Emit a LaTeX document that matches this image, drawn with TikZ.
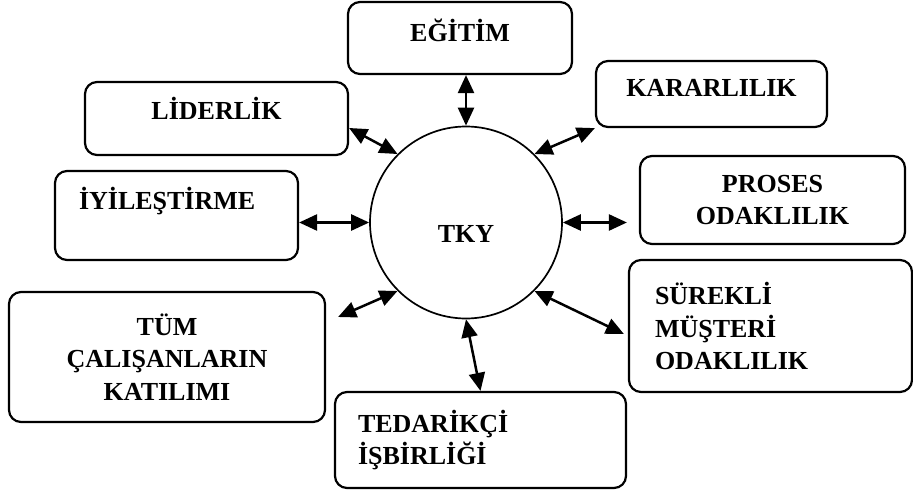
\documentclass[tikz,border=0pt]{standalone}
\usepackage{fontspec}
\setmainfont{Liberation Serif}
\usepackage{tikz}
\usetikzlibrary{positioning,arrows.meta}

\begin{document}
\begin{tikzpicture}[x=1pt, y=-1pt,
  every node/.style={font=\fontsize{26}{32.5}\selectfont\bfseries},
  item/.style={draw, rectangle, rounded corners=12pt, line width=2.2pt, inner sep=0pt},
  dbl/.style={{Triangle[length=18pt,width=16pt]}-{Triangle[length=18pt,width=16pt]}, line width=2.5pt}]

\useasboundingbox (0,0) rectangle (913,492);

% Centre
\node (tky) [draw, circle, line width=1.7pt, minimum size=192pt, text height=40pt, text depth=0pt] at (466,222.5) {TKY};

% Boxes round the centre
\node (egitim) [item, minimum width=224pt, minimum height=72pt, text height=18pt, text depth=10pt] at (460,38) {EĞİTİM};
\node (liderlik) [item, minimum width=263pt, minimum height=73pt, text height=18pt, text depth=15pt] at (216.5,118.5) {LİDERLİK};
\node (kararlilik) [item, minimum width=231pt, minimum height=66pt, text height=18pt, text depth=13pt] at (711.5,94) {KARARLILIK};
\node (iyilestirme) [item, minimum width=243pt, minimum height=89pt, text width=195pt, align=left, text height=18pt, text depth=31pt] at (176.5,215.5) {İYİLEŞTİRME};
\node (proses) [item, minimum width=265pt, minimum height=88pt, align=center] at (772.5,200) {PROSES\\ODAKLILIK};
\node (tum) [item, minimum width=316pt, minimum height=130pt, align=center] at (167,357) {TÜM\\ÇALIŞANLARIN\\KATILIMI};
\node (tedarikci) [item, minimum width=291pt, minimum height=96pt, text width=245pt, align=left] at (480.5,440) {TEDARİKÇİ\\İŞBİRLİĞİ};
\node (surekli) [item, minimum width=283pt, minimum height=132pt, text width=231pt, align=left] at (770.5,326) {SÜREKLİ\\MÜŞTERİ\\ODAKLILIK};

% Arrows
\draw[dbl] (tky.north) -- (tky.north |- egitim.south);
\draw[dbl] (tky.135) -- ([yshift=-9.5pt]liderlik.east);
\draw[dbl] (tky.45) -- (kararlilik.south west);
\draw[dbl] (tky.west) -- (tky.west -| iyilestirme.east);
\draw[dbl, shorten >=12pt] (tky.east) -- (tky.east -| proses.west);
\draw[dbl] (tky.225) -- ([xshift=12pt, yshift=40pt]tum.east);
\draw[dbl] (tky.south) -- (tedarikci.north);
\draw[dbl] (tky.-45) -- ([shift={(-4pt,-8pt)}]surekli.west);

\end{tikzpicture}
\end{document}
